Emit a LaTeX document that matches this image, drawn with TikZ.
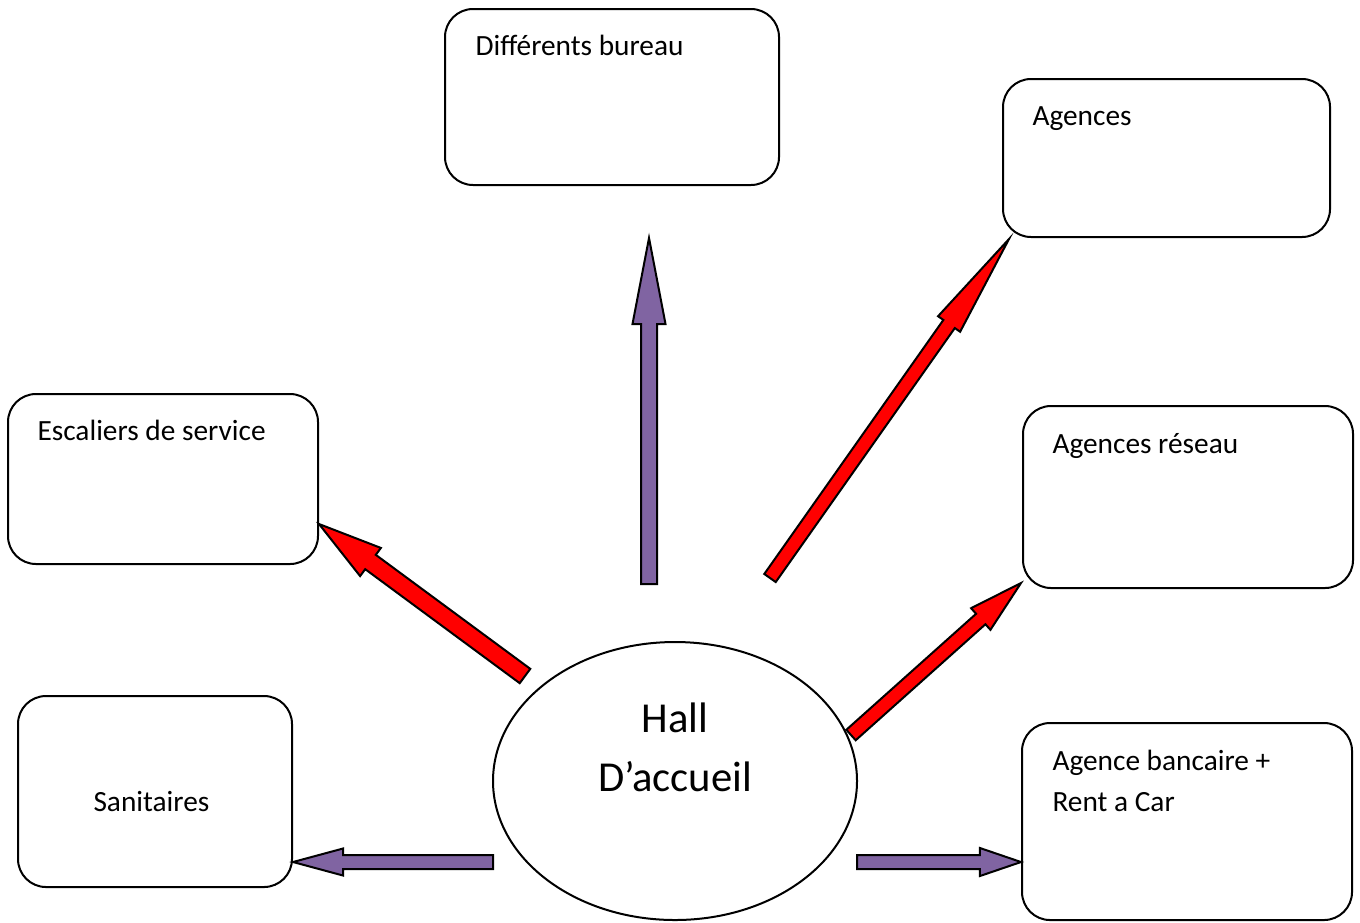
\documentclass[tikz,border=0pt]{standalone}
\usepackage{fontspec}
\setmainfont{Carlito}
\usetikzlibrary{calc,fit,shapes.geometric}

\definecolor{officepurple}{RGB}{128,100,162}
\definecolor{officered}{RGB}{255,0,0}

% Block arrow: #1 tail, #2 tip, #3 shaft half-width, #4 head half-width,
% #5 head length, #6 fill colour
\newcommand\blockarrow[6]{%
  \coordinate (ba-base) at ($(#2)!#5!(#1)$);
  \filldraw[arrowline, fill=#6]
    ($(#1)!#3!-90:(#2)$) -- ($(ba-base)!#3!90:(#1)$) -- ($(ba-base)!#4!90:(#1)$)
    -- (#2) -- ($(ba-base)!#4!-90:(#1)$) -- ($(ba-base)!#3!-90:(#1)$)
    -- ($(#1)!#3!90:(#2)$) -- cycle;
}

\tikzset{
  roombox/.style={draw=black, line width=0.75pt, rounded corners=10.5pt,
    inner sep=0pt, fill=white},
  lbl/.style={font=\fontsize{11}{15.4}\selectfont, inner sep=0pt, anchor=base west},
  halllbl/.style={font=\fontsize{16}{22}\selectfont, inner sep=0pt, anchor=base},
  arrowline/.style={draw=black, line width=0.75pt, line join=miter},
}

\begin{document}
\begin{tikzpicture}[x=0.375pt, y=-0.375pt]
  \useasboundingbox (0,0) rectangle (1360,922);

  % rooms
  \node[roombox, fit={(445,9) (779,185)}] (bureau) {};
  \node[lbl] (bureau-t) at (475,55) {Différents bureau};

  \node[roombox, fit={(1003,79) (1330,237)}] (agences) {};
  \node[lbl] (agences-t) at (1032,125) {Agences};

  \node[roombox, fit={(8,394) (318,564)}] (escaliers) {};
  \node[lbl] (escaliers-t) at (37,440) {Escaliers de service};

  \node[roombox, fit={(1023,406) (1353,588)}] (reseau) {};
  \node[lbl] (reseau-t) at (1052,453) {Agences réseau};

  \node[roombox, fit={(18,696) (292,887)}] (sanitaires) {};
  \node[lbl] (sanitaires-t) at (93,811) {Sanitaires};

  \node[roombox, fit={(1022,723) (1352,920)}] (banque) {};
  \node[lbl] (banque-t1) at (1052,770) {Agence bancaire +};
  \node[lbl] (banque-t2) at (1052,811) {Rent a Car};

  % reception hall
  \node[draw=black, line width=0.75pt, ellipse, inner sep=0pt,
        minimum width=136.5pt, minimum height=104.25pt] (hall) at (675,781) {};
  \node[halllbl] (hall-t1) at (675,732) {Hall};
  \node[halllbl] (hall-t2) at (675,791) {D’accueil};

  % arrow end points
  \coordinate (up-tail) at (649,584);
  \coordinate (up-tip) at (649,238);
  \coordinate (esc-tail) at (525,676);
  \coordinate (esc-tip) at (escaliers.south east |- 0,524);
  \coordinate (ag-tail) at (770,578);
  \coordinate (ag-tip) at (1009,239);
  \coordinate (res-tail) at (851,735);
  \coordinate (res-tip) at (1021,583);
  \coordinate (san-tail) at (493,862);
  \coordinate (san-tip) at (sanitaires.east |- 0,862);
  \coordinate (bq-tail) at (857,862);
  \coordinate (bq-tip) at (banque.west |- 0,862);

  % arrows
  \blockarrow{up-tail}{up-tip}{3pt}{6.19pt}{32.25pt}{officepurple}
  \blockarrow{esc-tail}{esc-tip}{3.34pt}{6.56pt}{24pt}{officered}
  \blockarrow{ag-tail}{ag-tip}{2.63pt}{5.06pt}{39pt}{officered}
  \blockarrow{res-tail}{res-tip}{2.63pt}{5.44pt}{20.25pt}{officered}
  \blockarrow{san-tail}{san-tip}{2.63pt}{5.06pt}{18.75pt}{officepurple}
  \blockarrow{bq-tail}{bq-tip}{2.63pt}{5.25pt}{15.4pt}{officepurple}
\end{tikzpicture}
\end{document}
